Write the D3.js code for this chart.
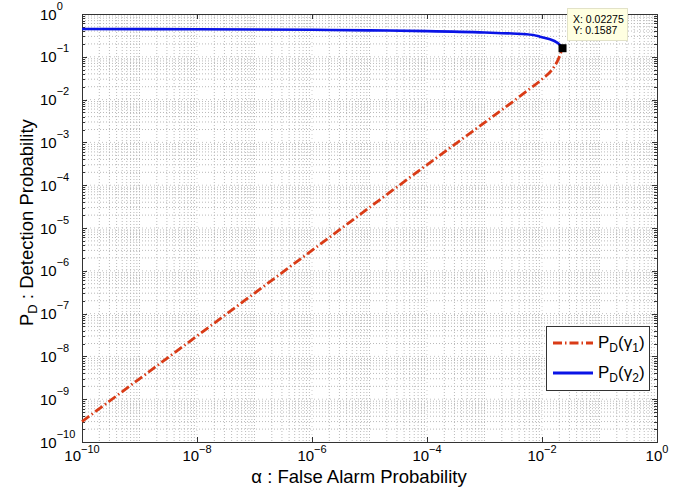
<!DOCTYPE html>
<html>
<head>
<meta charset="utf-8">
<script src="https://cdn.jsdelivr.net/npm/d3@7"></script>
<style>
  html, body { margin: 0; padding: 0; background: #fff; }
  svg { display: block; font-family: "Liberation Sans", Arial, Helvetica, sans-serif; }
</style>
</head>
<body>
<svg id="chart" width="693" height="489"></svg>
<script>
// ---- data ----
const alphaRed = [1e-10, 1e-8, 1e-6, 1e-4, 1e-3, 5e-3, 1e-2, 1.5e-2, 1.9e-2, 0.02275];
const pdRed    = [3.0e-10, 3.0e-8, 3.0e-6, 3.0e-4, 2.9e-3, 1.45e-2, 3.0e-2, 5.0e-2, 8.5e-2, 0.1587];

const alphaBlue = [1e-10, 1e-8, 1e-6, 1e-5, 1e-4, 1e-3, 3e-3, 7e-3, 9.2e-3, 1.38e-2, 1.8e-2, 2.06e-2, 0.02275];
const pdBlue    = [0.447, 0.44, 0.428, 0.415, 0.398, 0.37, 0.35, 0.323, 0.295, 0.256, 0.218, 0.188, 0.1587];

const xTickExps = [-10, -8, -6, -4, -2, 0];
const yTickExps = [0, -1, -2, -3, -4, -5, -6, -7, -8, -9, -10];

const dataTip = { x: 0.02275, y: 0.1587 };
const xLabelText = "α : False Alarm Probability";
const yLabelMain = "P";
const yLabelSub = "D";
const yLabelRest = " : Detection Probability";
const legendItems = [
  { name: "P", sub: "D", arg: "γ", argSub: "1", color: "#d93b16", dash: "9,3,1.5,3" },
  { name: "P", sub: "D", arg: "γ", argSub: "2", color: "#0a14e6", dash: null }
];

// ---- layout ----
const L = 82, R = 657, T = 14, B = 442;
const svg = d3.select("#chart");
const x = d3.scaleLog().domain([1e-10, 1]).range([L, R]);
const y = d3.scaleLog().domain([1e-10, 1]).range([B, T]);

const minorVals = [];
for (let k = -10; k < 0; k++) for (let m = 2; m <= 9; m++) minorVals.push(m * Math.pow(10, k));
const decades = d3.range(-10, 1).map(k => Math.pow(10, k));

const gGrid = svg.append("g");
// vertical grid
gGrid.selectAll(".vmin").data(minorVals.concat(decades.filter((d, i) => (i % 2) === 1)))
  .enter().append("line")
  .attr("x1", d => x(d)).attr("x2", d => x(d)).attr("y1", T).attr("y2", B)
  .attr("stroke", "#bababa").attr("stroke-width", 1).attr("stroke-dasharray", "1,2");
gGrid.selectAll(".vmaj").data(xTickExps.slice(1, -1).map(e => Math.pow(10, e)))
  .enter().append("line")
  .attr("x1", d => x(d)).attr("x2", d => x(d)).attr("y1", T).attr("y2", B)
  .attr("stroke", "#d0d0d0").attr("stroke-width", 1).attr("stroke-dasharray", "1,3");
// horizontal grid
gGrid.selectAll(".hmin").data(minorVals)
  .enter().append("line")
  .attr("y1", d => y(d)).attr("y2", d => y(d)).attr("x1", L).attr("x2", R)
  .attr("stroke", "#bababa").attr("stroke-width", 1).attr("stroke-dasharray", "1,2");
gGrid.selectAll(".hmaj").data(decades.slice(1, -1))
  .enter().append("line")
  .attr("y1", d => y(d)).attr("y2", d => y(d)).attr("x1", L).attr("x2", R)
  .attr("stroke", "#c4c4c4").attr("stroke-width", 1).attr("stroke-dasharray", "1,3");

// axes frame & ticks
const axisColor = "#333";
const gAx = svg.append("g");
yTickExps.forEach(e => {
  const v = Math.pow(10, e), yy = Math.round(y(v)) + 0.5;
  gAx.append("line").attr("x1", L).attr("x2", L + 5).attr("y1", yy).attr("y2", yy).attr("stroke", axisColor);
  gAx.append("line").attr("x1", R).attr("x2", R - 5).attr("y1", yy).attr("y2", yy).attr("stroke", axisColor);
});
minorVals.forEach(v => {
  const yy = Math.round(y(v)) + 0.5;
  gAx.append("line").attr("x1", L).attr("x2", L + 3).attr("y1", yy).attr("y2", yy).attr("stroke", axisColor);
  gAx.append("line").attr("x1", R).attr("x2", R - 3).attr("y1", yy).attr("y2", yy).attr("stroke", axisColor);
});
xTickExps.forEach(e => {
  const v = Math.pow(10, e), xx = Math.round(x(v)) + 0.5;
  gAx.append("line").attr("x1", xx).attr("x2", xx).attr("y1", B).attr("y2", B - 5).attr("stroke", axisColor);
  gAx.append("line").attr("x1", xx).attr("x2", xx).attr("y1", T).attr("y2", T + 5).attr("stroke", axisColor);
});
gAx.append("rect").attr("x", L + 0.5).attr("y", T + 0.5).attr("width", R - L).attr("height", B - T)
  .attr("fill", "none").attr("stroke", axisColor).attr("stroke-width", 1);

// tick labels
const gLab = svg.append("g").attr("fill", "#000");
xTickExps.forEach(e => {
  const t = gLab.append("text").attr("x", x(Math.pow(10, e))).attr("y", 461)
    .attr("text-anchor", "middle").attr("font-size", 15);
  t.append("tspan").text("10");
  t.append("tspan").attr("dy", -8).attr("font-size", 11).text(e < 0 ? "\u2212" + (-e) : String(e));
});
yTickExps.forEach(e => {
  const t = gLab.append("text").attr("x", 40).attr("y", y(Math.pow(10, e)) + 5.5)
    .attr("text-anchor", "start").attr("font-size", 15);
  t.append("tspan").text("10");
  t.append("tspan").attr("dy", -10).attr("font-size", 11).text(e < 0 ? "\u2212" + (-e) : String(e));
});

// axis titles
svg.append("text").attr("x", 359).attr("y", 483).attr("text-anchor", "middle")
  .attr("font-size", 18.5).text(xLabelText);
const yl = svg.append("text").attr("transform", `translate(33,326) rotate(-90)`)
  .attr("text-anchor", "start").attr("font-size", 18.5);
yl.append("tspan").text(yLabelMain);
yl.append("tspan").attr("dy", 4).attr("font-size", 13).text(yLabelSub);
yl.append("tspan").attr("dy", -4).text(yLabelRest);

// curves
const lineGen = d3.line().x(d => x(d[0])).y(d => y(d[1])).curve(d3.curveMonotoneX);
const redPts = alphaRed.map((a, i) => [a, pdRed[i]]);
const bluePts = alphaBlue.map((a, i) => [a, pdBlue[i]]);
svg.append("path").attr("d", lineGen(redPts)).attr("fill", "none")
  .attr("stroke", legendItems[0].color).attr("stroke-width", 2.8).attr("stroke-dasharray", legendItems[0].dash);
svg.append("path").attr("d", lineGen(bluePts)).attr("fill", "none")
  .attr("stroke", legendItems[1].color).attr("stroke-width", 2.6);

// data tip
svg.append("rect").attr("x", x(dataTip.x) - 4).attr("y", y(dataTip.y) - 4).attr("width", 8).attr("height", 8).attr("fill", "#000");
svg.append("rect").attr("x", 567.5).attr("y", 8.5).attr("width", 60).attr("height", 32)
  .attr("fill", "#ffffe1").attr("stroke", "#e2e2c8");
svg.append("text").attr("x", 573).attr("y", 23).attr("font-size", 10.5).text("X: " + dataTip.x);
svg.append("text").attr("x", 573).attr("y", 34).attr("font-size", 10.5).text("Y: " + dataTip.y);

// legend
const lg = svg.append("g");
lg.append("rect").attr("x", 546.5).attr("y", 326.5).attr("width", 103).attr("height", 64)
  .attr("fill", "#fff").attr("stroke", "#333");
legendItems.forEach((it, i) => {
  const yy = 343 + i * 30;
  lg.append("line").attr("x1", 553).attr("x2", 593).attr("y1", yy).attr("y2", yy)
    .attr("stroke", it.color).attr("stroke-width", 2.8).attr("stroke-dasharray", it.dash);
  const t = lg.append("text").attr("x", 598).attr("y", yy + 5).attr("font-size", 17);
  t.append("tspan").text(it.name);
  t.append("tspan").attr("dy", 4).attr("font-size", 12).text(it.sub);
  t.append("tspan").attr("dy", -4).text("(" + it.arg);
  t.append("tspan").attr("dy", 4).attr("font-size", 12).text(it.argSub);
  t.append("tspan").attr("dy", -4).text(")");
});
</script>
</body>
</html>
